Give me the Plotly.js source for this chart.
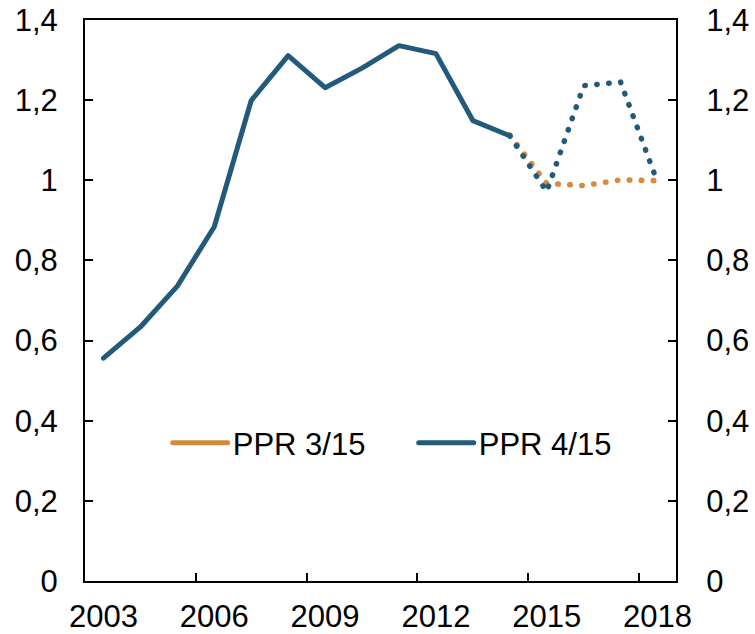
<!DOCTYPE html>
<html>
<head>
<meta charset="utf-8">
<script src="https://cdn.plot.ly/plotly-3.0.1.min.js"></script>
<style>
  html, body { margin: 0; padding: 0; background: #fff; }
  #chart { width: 755px; height: 634px; }
  .scatterlayer .js-line, .legend .js-line { stroke-linecap: round; stroke-linejoin: round; }
</style>
</head>
<body>
<div id="chart"></div>
<script>
// Historical series (PPR 4/15), annual
const histYears = [2003, 2004, 2005, 2006, 2007, 2008, 2009, 2010, 2011, 2012, 2013, 2014];
const ppr415Hist = [0.556, 0.634, 0.736, 0.884, 1.199, 1.311, 1.231, 1.280, 1.336, 1.316, 1.149, 1.111];

// Projections
const projYears = [2014, 2015, 2016, 2017, 2018];
const ppr415Proj = [1.111, 0.972, 1.236, 1.245, 0.995];
const ppr315Proj = [1.113, 0.992, 0.987, 1.001, 0.999];

// Tick labels
const tickYears = [2003, 2006, 2009, 2012, 2015, 2018];
const tickLabels = ['2003', '2006', '2009', '2012', '2015', '2018'];

const seriesNames = ['PPR 3/15', 'PPR 4/15'];
const orange = '#d48b3b';
const blue = '#215a7a';
const dotDash = '0.5px,11.5px';

const traces = [
  { x: [null], y: [null], type: 'scatter', mode: 'lines', name: seriesNames[0],
    line: { color: orange, width: 5 }, hoverinfo: 'skip' },
  { x: projYears, y: ppr315Proj, type: 'scatter', mode: 'lines', name: seriesNames[0],
    line: { color: orange, width: 5.5, dash: dotDash }, showlegend: false },
  { x: histYears, y: ppr415Hist, type: 'scatter', mode: 'lines', name: seriesNames[1],
    line: { color: blue, width: 5 } },
  { x: projYears, y: ppr415Proj, type: 'scatter', mode: 'lines', name: seriesNames[1],
    line: { color: blue, width: 5.5, dash: dotDash }, showlegend: false },
  { x: histYears, y: ppr415Hist, type: 'scatter', mode: 'lines', xaxis: 'x2', yaxis: 'y2',
    line: { color: 'rgba(0,0,0,0)', width: 0 }, showlegend: false, hoverinfo: 'skip' }
];

const fontFamily = '"Liberation Sans", Arial, sans-serif';
const tickFont = { family: fontFamily, size: 31, color: '#000' };
const yAxisBase = {
  range: [0, 1.4], dtick: 0.2, tick0: 0,
  ticks: 'inside', ticklen: 8, tickwidth: 2, tickcolor: '#000',
  showline: true, linewidth: 2, linecolor: '#000',
  showgrid: false, zeroline: false,
  tickfont: tickFont
};

const layout = {
  width: 755, height: 634,
  margin: { l: 85, r: 79, t: 20, b: 53 },
  paper_bgcolor: '#fff', plot_bgcolor: '#fff',
  separators: ', ',
  font: { family: fontFamily, size: 31, color: '#000' },
  showlegend: true,
  legend: {
    orientation: 'h', x: 0.14, y: 0.246, yanchor: 'middle', xanchor: 'left',
    bgcolor: 'rgba(0,0,0,0)', font: tickFont,
    itemwidth: 55, entrywidth: 176, tracegroupgap: 0
  },
  // boundary ticks between years
  xaxis: {
    range: [2002.5, 2018.5],
    tickmode: 'array',
    tickvals: tickYears.map(y => y - 0.5),
    showticklabels: false,
    ticks: 'inside', ticklen: 8, tickwidth: 2, tickcolor: '#000',
    showline: true, linewidth: 2, linecolor: '#000', mirror: true,
    showgrid: false, zeroline: false
  },
  // year labels centred in each year
  xaxis2: {
    overlaying: 'x', side: 'bottom', matches: 'x',
    range: [2002.5, 2018.5],
    tickmode: 'array',
    tickvals: tickYears,
    ticktext: tickLabels,
    ticks: '', showline: false, showgrid: false, zeroline: false,
    tickfont: tickFont,
    ticklabelstandoff: 14
  },
  yaxis: Object.assign({}, yAxisBase, { side: 'left', ticklabelstandoff: 19 }),
  yaxis2: Object.assign({}, yAxisBase, { side: 'right', overlaying: 'y', ticklabelstandoff: 22 })
};

Plotly.newPlot('chart', traces, layout, { staticPlot: true, displayModeBar: false });
</script>
</body>
</html>
